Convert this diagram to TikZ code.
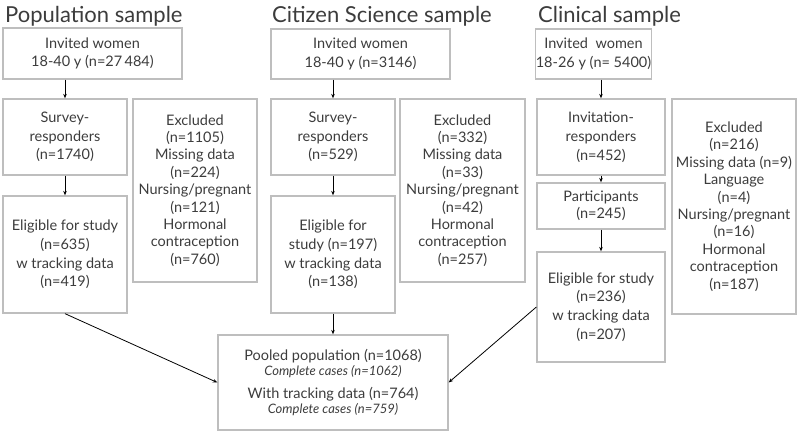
\documentclass[tikz,border=0pt]{standalone}
\usepackage{fontspec}
\setmainfont{Lato}
\usetikzlibrary{arrows.meta,positioning}
\definecolor{boxgray}{RGB}{190,190,190}
\definecolor{txtgray}{RGB}{60,60,60}
\tikzset{
  box/.style={draw=boxgray, line width=1.3pt, align=center, inner sep=0pt,
    text=txtgray, font=\fontsize{14.5}{18.8}\selectfont},
  title/.style={anchor=base west, inner sep=0pt, text=txtgray,
    font=\fontsize{22}{26}\selectfont},
  arr/.style={-{Stealth[length=4.5pt,width=3.5pt]}, line width=0.8pt}
}
\newcommand{\cc}[1]{{\fontsize{13}{14}\selectfont\itshape #1}}
\begin{document}
\begin{tikzpicture}[x=1pt,y=-1pt]
		%%%%% START %%%%%
		\useasboundingbox (0,0) rectangle (799,434);
		
		\node[title] (poptitle) at (5, 22) {Population sample};
		\node[title] (cittitle) at (272, 22) {Citizen Science sample};
		\node[title] (clintitle) at (538, 22) {Clinical sample};
		
		% population sample
		\node[box, minimum width=179, minimum height=51] (popinv) at (92.5, 53.5) {Invited women\\18-40 y (n=27\,484)};
		\node[box, minimum width=124, minimum height=76] (popsurv) at (65, 137) {Survey-\\responders\\(n=1740)};
		\node[box, minimum width=124, minimum height=183, font=\fontsize{14.5}{17.4}\selectfont] (popexcl) at (195, 190.5) {Excluded\\(n=1105)\\Missing data\\(n=224)\\Nursing/pregnant\\(n=121)\\Hormonal\\contraception\\(n=760)};
		\node[box, minimum width=124, minimum height=117] (popelig) at (65, 254.5) {Eligible for study\\(n=635)\\w tracking data\\(n=419)};
		
		% citizen science sample
		\node[box, minimum width=179, minimum height=50] (citinv) at (360.5, 54) {Invited women\\18-40 y (n=3146)};
		\node[box, minimum width=124, minimum height=76] (citsurv) at (333, 137) {Survey-\\responders\\(n=529)};
		\node[box, minimum width=125, minimum height=183, font=\fontsize{14.5}{17.4}\selectfont] (citexcl) at (462.5, 190.5) {Excluded\\(n=332)\\Missing data\\(n=33)\\Nursing/pregnant\\(n=42)\\Hormonal\\contraception\\(n=257)};
		\node[box, minimum width=124, minimum height=117] (citelig) at (333, 254.5) {Eligible for\\study (n=197)\\w tracking data\\(n=138)};
		
		% clinical sample
		\node[box, minimum width=113, minimum height=50] (clininv) at (593.5, 54) {Invited\ \ women\\18-26 y (n=\ 5400)};
		\node[box, minimum width=128, minimum height=76] (clinresp) at (601, 137) {Invitation-\\responders\\(n=452)};
		\node[box, minimum width=128, minimum height=46, font=\fontsize{14.5}{17}\selectfont] (clinpart) at (601, 206) {Participants\\(n=245)};
		\node[box, minimum width=128, minimum height=110] (clinelig) at (601, 307) {Eligible for study\\(n=236)\\w tracking data\\(n=207)};
		\node[box, minimum width=124, minimum height=215, font=\fontsize{14.5}{17.4}\selectfont] (clinexcl) at (734, 206.5) {Excluded\\(n=216)\\Missing data (n=9)\\Language\\(n=4)\\Nursing/pregnant\\(n=16)\\Hormonal\\contraception\\(n=187)};
		
		% pooled
		\node[box, minimum width=230, minimum height=95] (pooled) at (333, 382.5) {Pooled population (n=1068)\\[-4pt]\cc{Complete cases (n=1062)}\\[4pt]With tracking data (n=764)\\[-4pt]\cc{Complete cases (n=759)}};
		
		\draw[arr] (popsurv.north |- popinv.south) -- (popsurv.north);
		\draw[arr] (popsurv) -- (popelig);
		\draw[arr] (citsurv.north |- citinv.south) -- (citsurv.north);
		\draw[arr] (citsurv) -- (citelig);
		\draw[arr] (clinresp.north |- clininv.south) -- (clinresp.north);
		\draw[arr] (clinresp) -- (clinpart);
		\draw[arr] (clinpart) -- (clinelig);
		
		\draw[arr] (popelig.south) -- (pooled.west);
		\draw[arr] (citelig) -- (pooled);
		\draw[arr] (clinelig.west) -- (pooled.east);
		%%%%% END %%%%%
\end{tikzpicture}
\end{document}
